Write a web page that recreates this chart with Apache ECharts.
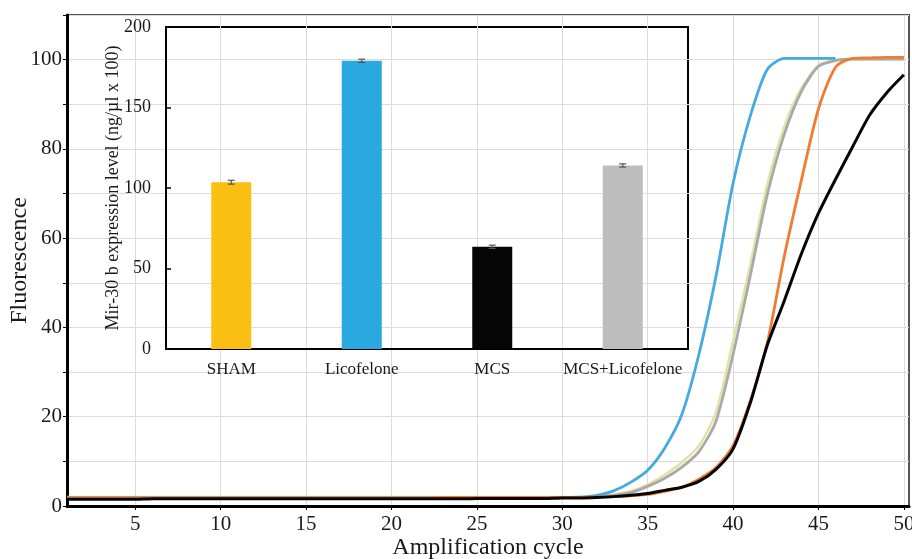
<!DOCTYPE html>
<html><head><meta charset="utf-8">
<script src="https://cdn.jsdelivr.net/npm/echarts@6/dist/echarts.min.js"></script>
<style>html,body{margin:0;padding:0;background:#fff}#c{width:912px;height:559px}</style>
</head><body><div id="c"></div><script>
// ---- main chart data (amplification curves) ----
const cycles = [1,2,3,4,5,6,7,8,9,10,11,12,13,14,15,16,17,18,19,20,21,22,23,24,25,26,27,28,29,30,31,32,33,34,35,36,37,38,39,40,41,42,43,44,45,46,47,48,49,50];
const xTickValues = [5,10,15,20,25,30,35,40,45,50];
const yellowCurve = [2.0,2.0,2.0,2.0,2.0,2.0,2.0,2.0,2.0,2.0, 2.0,2.0,2.0,2.0,2.0,2.0,2.0,2.0,2.0,2.0, 2.0,2.0,2.0,2.0,2.0,2.0,2.0,2.0,2.0,2.0, 2.0,2.1,2.6,3.3,4.8,7.0,9.8,13.5,21,37, 54,72,85,93.6,98.7,99.9,100.1,100.1,100.1,100.1];
const greyCurve = [1.8,1.8,1.8,1.8,1.8,1.8,1.8,1.8,1.8,1.8, 1.8,1.8,1.8,1.8,1.8,1.8,1.8,1.8,1.8,1.8, 1.8,1.8,1.8,1.8,1.8,1.8,1.8,1.8,1.9,1.9, 1.9,2.0,2.4,3.0,4.4,6.2,8.7,12.2,19,34, 51.5,69.7,83.3,92.9,98.5,99.8,100.1,100.1,100.1,100.1];
const blueCurve = [1.8,1.8,1.8,1.8,1.8,1.8,1.8,1.8,1.8,1.8, 1.8,1.8,1.8,1.8,1.8,1.8,1.8,1.8,1.8,1.8, 1.8,1.8,1.8,1.8,1.8,1.8,1.8,1.8,1.9,1.9, 2.0,2.4,3.4,5.3,8.0,13,20.5,34,51.5,72.3, 87.3,97.8,100.3,100.3,100.3,100.3,null,null,null,null];
const orangeCurve = [1.8,1.8,1.8,1.8,1.8,1.8,1.8,1.8,1.8,1.8, 1.8,1.8,1.8,1.8,1.8,1.8,1.8,1.8,1.8,1.8, 1.8,1.8,1.9,1.9,1.9,1.9,1.9,1.9,1.9,1.9, 1.9,2.0,2.1,2.3,2.6,3.3,4.2,6.0,8.6,13.5, 23.5,36.5,56,73,89,98.3,100.3,100.4,100.5,100.5];
const blackCurve = [1.5,1.5,1.5,1.5,1.5,1.6,1.6,1.6,1.6,1.6, 1.6,1.6,1.6,1.6,1.6,1.6,1.6,1.6,1.6,1.6, 1.6,1.6,1.6,1.6,1.7,1.7,1.7,1.7,1.7,1.8, 1.8,1.9,2.1,2.4,2.8,3.5,4.2,5.5,8.2,12.8, 23,36,46,56.5,65.6,73.2,80.5,87.6,92.6,96.6];

// ---- inset bar chart data ----
const barCategories = ['SHAM','Licofelone','MCS','MCS+Licofelone'];
const barValues = [103.6,179,63.5,114];
const barErrors = [1.2,1.0,1.0,1.0];
const barColors = ['#fbbf14','#2aa9e0','#050505','#bdbdbd'];

const serif = '"Liberation Serif","DejaVu Serif",serif';
const txt = '#1a1a1a';

function pairs(arr){ return cycles.map((c,i)=>[c, arr[i]]); }
function lineSeries(name, arr, color, width, z){
  return {name, type:'line', xAxisIndex:0, yAxisIndex:0, data:pairs(arr), showSymbol:false,
    smooth:0.25, connectNulls:false, z,
    lineStyle:{color, width}, emphasis:{disabled:true}};
}

const chart = echarts.init(document.getElementById('c'), null, {renderer:'canvas'});
chart.setOption({
  animation:false,
  backgroundColor:'#fff',
  grid:[
    {left:67, right:3, top:15, bottom:53, show:true, borderColor:'#555', borderWidth:2, backgroundColor:'transparent', containLabel:false, outerBoundsMode:'none'},
    {left:166, right:224, top:27, bottom:210, show:true, borderColor:'#000', borderWidth:2, backgroundColor:'transparent', containLabel:false, outerBoundsMode:'none'}
  ],
  xAxis:[
    {type:'value', gridIndex:0, min:1, max:50.3,
     name:'Amplification cycle', nameLocation:'middle', nameGap:30, nameMoveOverlap:false,
     nameTextStyle:{fontFamily:serif, fontSize:24, color:txt},
     axisLine:{show:true, onZero:false, lineStyle:{color:'#000', width:3}},
     axisTick:{show:true, customValues:xTickValues, length:4, lineStyle:{color:'#000', width:1}},
     axisLabel:{customValues:xTickValues, fontFamily:serif, fontSize:21, color:txt, margin:8},
     splitLine:{show:true, lineStyle:{color:'#dcdcdc', width:1}}},
    {type:'category', gridIndex:1, data:barCategories,
     axisLine:{show:true, lineStyle:{color:'#000', width:2}},
     axisTick:{show:false},
     axisLabel:{fontFamily:serif, fontSize:17, color:txt, margin:12, interval:0},
     splitLine:{show:false}}
  ],
  yAxis:[
    {type:'value', gridIndex:0, min:0, max:110, interval:10,
     name:'Fluorescence', nameLocation:'middle', nameGap:35, nameRotate:90, nameMoveOverlap:false,
     nameTextStyle:{fontFamily:serif, fontSize:24, color:txt},
     axisLine:{show:true, onZero:false, lineStyle:{color:'#000', width:3}},
     axisTick:{show:true, length:4, lineStyle:{color:'#000', width:1}},
     axisLabel:{fontFamily:serif, fontSize:21, color:txt, margin:5, formatter:v => (v % 20 === 0 && v <= 100) ? String(v) : ''},
     splitLine:{show:true, lineStyle:{color:'#dcdcdc', width:1}}},
    {type:'value', gridIndex:1, min:0, max:200, interval:50,
     name:'Mir-30 b expression level (ng/µl x 100)', nameLocation:'middle', nameGap:44, nameRotate:90, nameMoveOverlap:false,
     nameTextStyle:{fontFamily:serif, fontSize:18, color:txt},
     axisLine:{show:true, lineStyle:{color:'#000', width:2}},
     axisTick:{show:true, inside:true, length:5, lineStyle:{color:'#000', width:1.5}},
     axisLabel:{fontFamily:serif, fontSize:18, color:txt, margin:15},
     splitLine:{show:false}}
  ],
  series:[
    lineSeries('yellow', yellowCurve, '#e4e1a2', 2.5, 2),
    lineSeries('grey', greyCurve, '#a9a9a9', 2.8, 3),
    lineSeries('blue', blueCurve, '#45aade', 2.8, 4),
    lineSeries('orange', orangeCurve, '#ee7d31', 2.8, 5),
    lineSeries('black', blackCurve, '#050505', 3, 6),
    {type:'bar', xAxisIndex:1, yAxisIndex:1, barWidth:40,
     data: barValues.map((v,i)=>({value:v, itemStyle:{color:barColors[i]}})), z:3},
    {type:'custom', xAxisIndex:1, yAxisIndex:1, z:10,
     data: barValues.map((v,i)=>[i, v - barErrors[i], v + barErrors[i]]),
     renderItem(params, api){
       const lo = api.coord([api.value(0), api.value(1)]);
       const hi = api.coord([api.value(0), api.value(2)]);
       const w = 7, st = {stroke:'#555', lineWidth:1.2};
       return {type:'group', children:[
         {type:'line', shape:{x1:lo[0], y1:lo[1], x2:hi[0], y2:hi[1]}, style:st},
         {type:'line', shape:{x1:lo[0]-w/2, y1:lo[1], x2:lo[0]+w/2, y2:lo[1]}, style:st},
         {type:'line', shape:{x1:hi[0]-w/2, y1:hi[1], x2:hi[0]+w/2, y2:hi[1]}, style:st}
       ]};
     }}
  ]
});
</script></body></html>
